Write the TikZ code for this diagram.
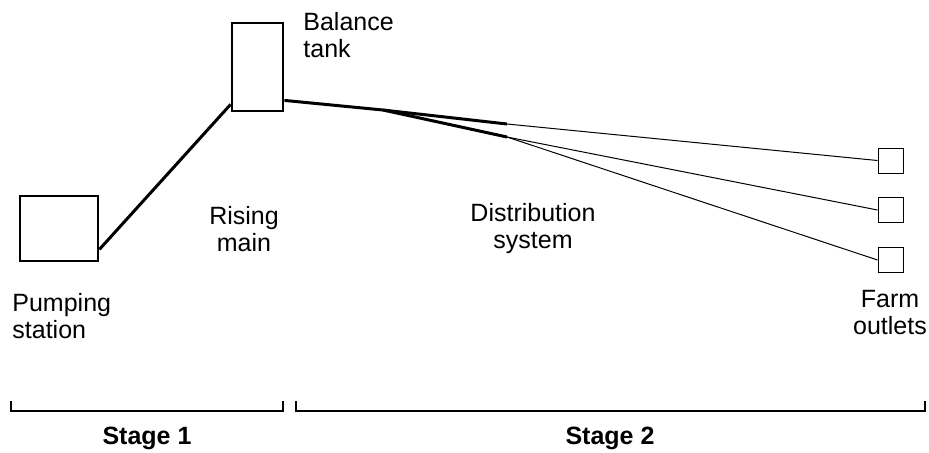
\documentclass[tikz,border=0pt]{standalone}
\usepackage{fontspec}
\setsansfont{Liberation Sans}
\usetikzlibrary{positioning}

\begin{document}
\begin{tikzpicture}[
    x=0.5pt,y=-0.5pt,
    font=\sffamily\fontsize{12.5}{13.5}\selectfont,
    pump/.style={draw,line width=1.4pt,inner sep=0pt,
      minimum width=39pt,minimum height=32.5pt},
    tank/.style={draw,line width=1.4pt,inner sep=0pt,
      minimum width=25.5pt,minimum height=44pt},
    outlet/.style={draw,line width=0.5pt,inner sep=0pt,minimum size=12.5pt},
    pipe/.style={line width=1.5pt},
    branch/.style={line width=0.5pt},
    label/.style={align=center,inner sep=0pt},
    stage/.style={font=\sffamily\bfseries\fontsize{12.5}{13.5}\selectfont,inner sep=0pt},
    bracket/.style={line width=1pt}
  ]
    \useasboundingbox (0,0) rectangle (929,452);

    \node[pump] (pump) at (59,228.5) {};
    \node[tank] (tank) at (257.5,67) {};
    \node[outlet] (out1) at (890.5,160.5) {};
    \node[outlet] (out2) at (890.5,210) {};
    \node[outlet] (out3) at (890.5,260) {};

    \coordinate (split) at (383,110);
    \coordinate (fork1) at (507,124);
    \coordinate (fork2) at (507,137);

    % rising main and distribution pipes
    \draw[pipe] ([yshift=6.5pt]pump.south east) -- ([yshift=4pt]tank.south west);
    \draw[pipe] ([yshift=6pt]tank.south east) -- (split) -- (fork1);
    \draw[pipe] (split) -- (fork2);
    \draw[branch] (fork1) -- (out1.west);
    \draw[branch] (fork2) -- (out2.west);
    \draw[branch] (fork2) -- (out3.west);

    % labels
    \node[label,align=left,anchor=west] (tanklbl) at (303,35) {Balance\\tank};
    \node[label] (risinglbl) at (244,229) {Rising\\main};
    \node[label] (distlbl) at (533,229) {Distribution\\system};
    \node[label,align=left,anchor=west] (pumplbl) at (12,316) {Pumping\\station};
    \node[label] (farmlbl) at (890,313) {Farm\\outlets};

    % stages
    \draw[bracket] (11,401) -- (11,411) -- (283,411) -- (283,401);
    \draw[bracket] (296,401) -- (296,411) -- (925,411) -- (925,401);
    \node[stage] (stage1) at (147,438) {Stage 1};
    \node[stage] (stage2) at (610,438) {Stage 2};
  \end{tikzpicture}
\end{document}
